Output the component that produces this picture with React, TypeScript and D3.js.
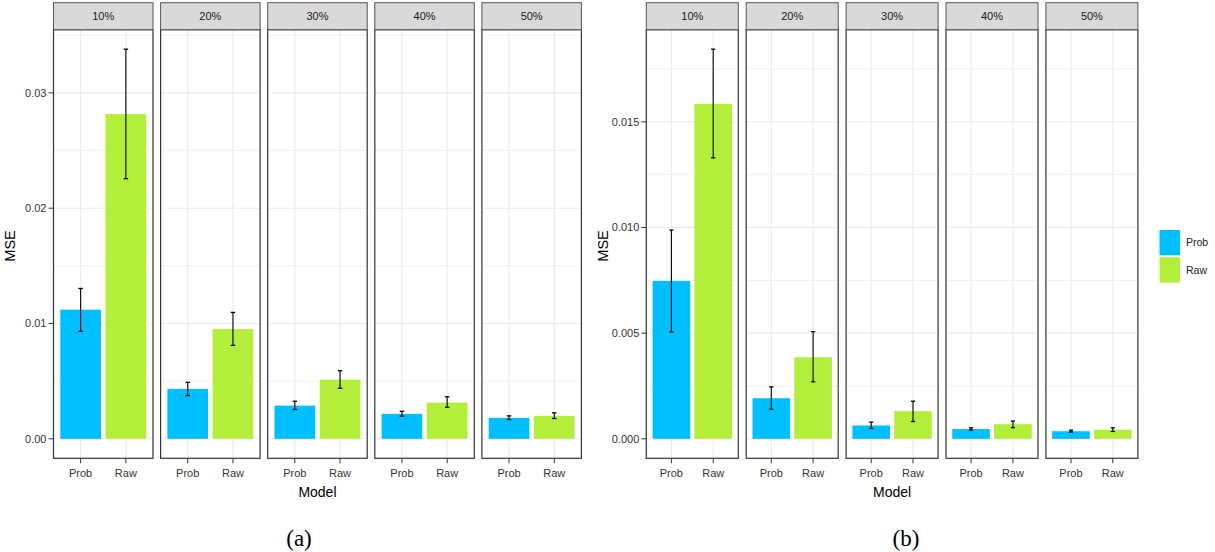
import React from "react";
import * as d3 from "d3";

// ---------- data ----------
const missingRates = ["10%", "20%", "30%", "40%", "50%"];
const models = ["Prob", "Raw"];

// chart (a)
const aProbMean = [0.0112, 0.00433, 0.00288, 0.00216, 0.00182];
const aProbLow = [0.00932, 0.00375, 0.00254, 0.00196, 0.00167];
const aProbHigh = [0.01304, 0.0049, 0.00326, 0.00239, 0.00199];
const aRawMean = [0.02816, 0.00952, 0.00513, 0.00314, 0.00199];
const aRawLow = [0.02256, 0.0081, 0.00438, 0.00274, 0.00176];
const aRawHigh = [0.03379, 0.01096, 0.00591, 0.00364, 0.00225];
const aTicks = [0, 0.01, 0.02, 0.03];
const aTickLabels = ["0.00", "0.01", "0.02", "0.03"];

// chart (b)
const bProbMean = [0.00747, 0.00192, 0.00063, 0.00046, 0.00036];
const bProbLow = [0.00506, 0.0014, 0.00049, 0.00041, 0.00032];
const bProbHigh = [0.00988, 0.00246, 0.00079, 0.00052, 0.00041];
const bRawMean = [0.01585, 0.00386, 0.00131, 0.00069, 0.00043];
const bRawLow = [0.0133, 0.0027, 0.00082, 0.00053, 0.00035];
const bRawHigh = [0.01844, 0.00507, 0.00178, 0.00084, 0.00052];
const bTicks = [0, 0.005, 0.01, 0.015];
const bTickLabels = ["0.000", "0.005", "0.010", "0.015"];

const colors = ["#00BFFF", "#B3EE3A"];
const FONT = "'Liberation Sans', Arial, Helvetica, sans-serif";

type Row = { mean: number; lo: number; hi: number };

function build(pm: number[], pl: number[], ph: number[], rm: number[], rl: number[], rh: number[]): Row[][] {
  return missingRates.map((_, i) => [
    { mean: pm[i], lo: pl[i], hi: ph[i] },
    { mean: rm[i], lo: rl[i], hi: rh[i] },
  ]);
}

const dataA = build(aProbMean, aProbLow, aProbHigh, aRawMean, aRawLow, aRawHigh);
const dataB = build(bProbMean, bProbLow, bProbHigh, bRawMean, bRawLow, bRawHigh);

type FacetProps = {
  data: Row[][];
  x0: number;
  panelW: number;
  gap: number;
  ticks: number[];
  tickLabels: string[];
};

const stripTop = 2.7;
const panelTop = 29.7;
const panelBottom = 458.3;

function Facet({ data, x0, panelW, gap, ticks, tickLabels }: FacetProps) {
  const maxV = d3.max(data.flat(), (d) => d.hi) as number;
  const y = d3
    .scaleLinear()
    .domain([-0.05 * maxV, 1.05 * maxV])
    .range([panelBottom, panelTop]);
  const step = ticks[1] - ticks[0];
  const ext = [ticks[0] - step, ...ticks, ticks[ticks.length - 1] + step];
  const minor: number[] = [];
  for (let i = 0; i < ext.length - 1; i++) minor.push((ext[i] + ext[i + 1]) / 2);
  const [d0, d1] = y.domain();
  const minorIn = minor.filter((m) => m > d0 && m < d1);
  const x = d3.scalePoint<string>().domain(models).range([0, panelW]).padding(0.6);
  const bandStep = x.step();
  const barW = bandStep * 0.9;
  const capW = bandStep * 0.1;
  const totalW = missingRates.length * panelW + (missingRates.length - 1) * gap;

  return (
    <g>
      {/* y axis */}
      {ticks.map((t, i) => (
        <g key={"yt" + i}>
          <line x1={x0 - 5} x2={x0} y1={y(t)} y2={y(t)} stroke="#333" strokeWidth={1} />
          <text
            x={x0 - 7}
            y={y(t)}
            dy="0.35em"
            textAnchor="end"
            fontSize={11}
            fill="#333"
            fontFamily={FONT}
          >
            {tickLabels[i]}
          </text>
        </g>
      ))}
      <text
        transform={`translate(${x0 - 38.5},${(panelTop + panelBottom) / 2 + 2}) rotate(-90)`}
        textAnchor="middle"
        fontSize={14.5}
        fill="#000"
        fontFamily={FONT}
      >
        MSE
      </text>
      {missingRates.map((rate, p) => {
        const px = x0 + p * (panelW + gap);
        return (
          <g key={rate} transform={`translate(${px},0)`}>
            <rect x={0} y={panelTop} width={panelW} height={panelBottom - panelTop} fill="#fff" />
            {minorIn.map((m, i) => (
              <line key={"mn" + i} x1={0} x2={panelW} y1={y(m)} y2={y(m)} stroke="#EBEBEB" strokeWidth={0.8} />
            ))}
            {ticks.map((t, i) => (
              <line key={"mj" + i} x1={0} x2={panelW} y1={y(t)} y2={y(t)} stroke="#EBEBEB" strokeWidth={1.1} />
            ))}
            {models.map((m) => (
              <line key={"vg" + m} x1={x(m)} x2={x(m)} y1={panelTop} y2={panelBottom} stroke="#EBEBEB" strokeWidth={1.1} />
            ))}
            {models.map((m, k) => {
              const d = data[p][k];
              const cx = x(m) as number;
              return (
                <g key={"bar" + m}>
                  <rect
                    x={cx - barW / 2}
                    y={y(d.mean)}
                    width={barW}
                    height={y(0) - y(d.mean)}
                    fill={colors[k]}
                  />
                  <line x1={cx} x2={cx} y1={y(d.hi)} y2={y(d.lo)} stroke="#000" strokeWidth={1.1} />
                  <line x1={cx - capW / 2} x2={cx + capW / 2} y1={y(d.hi)} y2={y(d.hi)} stroke="#000" strokeWidth={1.3} />
                  <line x1={cx - capW / 2} x2={cx + capW / 2} y1={y(d.lo)} y2={y(d.lo)} stroke="#000" strokeWidth={1.3} />
                </g>
              );
            })}
            <rect
              x={0}
              y={panelTop}
              width={panelW}
              height={panelBottom - panelTop}
              fill="none"
              stroke="#333"
              strokeWidth={1.2}
            />
            <rect
              x={0}
              y={stripTop}
              width={panelW}
              height={panelTop - stripTop}
              fill="#D9D9D9"
              stroke="#555"
              strokeWidth={1}
            />
            <text
              x={panelW / 2}
              y={(stripTop + panelTop) / 2}
              dy="0.35em"
              textAnchor="middle"
              fontSize={11}
              fill="#1A1A1A"
              fontFamily={FONT}
            >
              {rate}
            </text>
            {models.map((m) => (
              <g key={"xt" + m}>
                <line x1={x(m)} x2={x(m)} y1={panelBottom} y2={panelBottom + 5} stroke="#333" strokeWidth={1} />
                <text
                  x={x(m)}
                  y={panelBottom + 15}
                  dy="0.35em"
                  textAnchor="middle"
                  fontSize={11}
                  fill="#333"
                  fontFamily={FONT}
                >
                  {m}
                </text>
              </g>
            ))}
          </g>
        );
      })}
      <text
        x={x0 + totalW / 2}
        y={492}
        dy="0.35em"
        textAnchor="middle"
        fontSize={14}
        fill="#000"
        fontFamily={FONT}
      >
        Model
      </text>
    </g>
  );
}

export default function App() {
  return (
    <svg
      width={1215}
      height={552}
      style={{ position: "fixed", left: 0, top: 0, background: "#fff" }}
    >
      <rect x={0} y={0} width={1215} height={552} fill="#fff" />
      <Facet data={dataA} x0={53.5} panelW={99.5} gap={7.6} ticks={aTicks} tickLabels={aTickLabels} />
      <Facet data={dataB} x0={646.3} panelW={92} gap={7.9} ticks={bTicks} tickLabels={bTickLabels} />
      {/* legend */}
      <g>
        {models.map((m, k) => (
          <g key={"lg" + m}>
            <rect x={1159.5} y={230 + k * 27.3} width={20.5} height={25.3} fill={colors[k]} />
            <text
              x={1186}
              y={230 + k * 27.3 + 12.6}
              dy="0.35em"
              fontSize={10.5}
              fill="#222"
              fontFamily={FONT}
            >
              {m}
            </text>
          </g>
        ))}
      </g>
      <text x={299} y={546} textAnchor="middle" fontSize={23} fontFamily="'Liberation Serif', 'Times New Roman', serif" fill="#000">
        (a)
      </text>
      <text x={906} y={546} textAnchor="middle" fontSize={23} fontFamily="'Liberation Serif', 'Times New Roman', serif" fill="#000">
        (b)
      </text>
    </svg>
  );
}
